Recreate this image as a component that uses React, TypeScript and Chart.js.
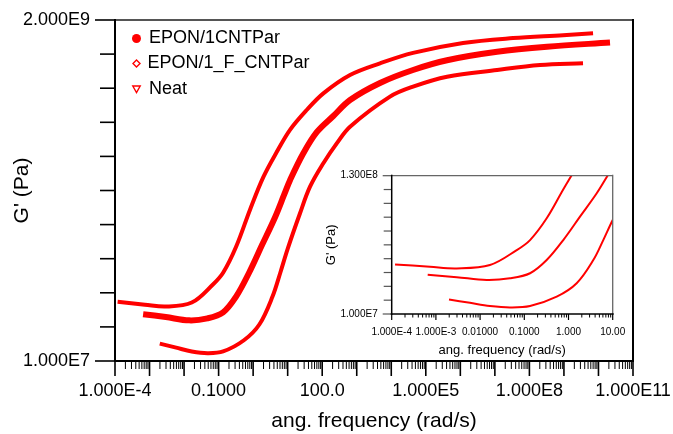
import React, { useEffect, useRef } from 'react';
import { Chart, registerables } from 'chart.js';
Chart.register(...registerables);

const FONT = '"Liberation Sans", Arial, Helvetica, sans-serif';
const RED = '#ff0000';

const seriesNames = ['EPON/1CNTPar', 'EPON/1_F_CNTPar', 'Neat'];

// EPON/1CNTPar (filled circles, middle curve)
const freqEpon1 = [6.52e-4, 2.96e-3, 0.0141, 0.0474, 0.135, 0.321, 0.762, 1.82, 4.35, 7.96, 11.7, 28.4, 69.5, 210, 640, 4720, 4.27e4, 4.12e5, 1.16e7, 3.24e8, 2.16e10];
const gEpon1 = [2.07e7, 1.98e7, 1.88e7, 1.94e7, 2.13e7, 2.72e7, 3.94e7, 6.08e7, 9.38e7, 1.33e8, 1.66e8, 2.52e8, 3.5e8, 4.5e8, 5.77e8, 7.52e8, 9.2e8, 1.07e9, 1.22e9, 1.32e9, 1.41e9];

// EPON/1_F_CNTPar (open diamonds, top curve)
const freqEponF = [1.19e-4, 7.35e-4, 2.95e-3, 0.0167, 0.0673, 0.135, 0.321, 0.813, 1.97, 4.82, 11.7, 35.6, 108, 640, 4720, 4.27e4, 1.2e6, 3.36e7, 9.42e8, 6.97e9];
const gEponF = [2.51e7, 2.4e7, 2.33e7, 2.48e7, 3.27e7, 3.94e7, 5.9e7, 1.05e8, 1.74e8, 2.57e8, 3.63e8, 4.94e8, 6.4e8, 8.51e8, 1.02e9, 1.2e9, 1.4e9, 1.51e9, 1.58e9, 1.63e9];

// Neat (open down-triangles, bottom curve)
const freqNeat = [1.98e-3, 5.9e-3, 0.0167, 0.0474, 0.135, 0.541, 1.53, 3.64, 6.12, 10.0, 22.8, 44.4, 108, 264, 640, 9200, 4.27e4, 4.12e5, 1.16e7, 2.03e8, 3.57e9];
const gNeat = [1.31e7, 1.23e7, 1.16e7, 1.13e7, 1.16e7, 1.38e7, 1.77e7, 2.72e7, 3.94e7, 5.71e7, 9.93e7, 1.5e8, 2.16e8, 2.94e8, 3.81e8, 6.08e8, 7.1e8, 8.28e8, 9.2e8, 9.93e8, 1.02e9];

// Main axes
const xTickValues = [1e-4, 1e-1, 1e2, 1e5, 1e8, 1e11];
const xTickLabels = ['1.000E-4', '0.1000', '100.0', '1.000E5', '1.000E8', '1.000E11'];
const yTickValues = [1e7, 2e9];
const yTickLabels = ['1.000E7', '2.000E9'];

// Inset axes
const insetXTickValues = [1e-4, 1e-3, 1e-2, 1e-1, 1, 10];
const insetXTickLabels = ['1.000E-4', '1.000E-3', '0.01000', '0.1000', '1.000', '10.00'];
const insetYTickValues = [1e7, 1.3e8];
const insetYTickLabels = ['1.000E7', '1.300E8'];

const xTitle = 'ang. frequency (rad/s)';
const yTitle = "G' (Pa)";

const toPts = (xs: number[], ys: number[]) => xs.map((x, i) => ({ x, y: ys[i] }));

function makeDatasets(widths: number[]) {
  const common = { borderColor: RED, pointRadius: 0, showLine: true, tension: 0.35 };
  return [
    { ...common, label: seriesNames[0], data: toPts(freqEpon1, gEpon1), backgroundColor: RED, borderWidth: widths[0] },
    { ...common, label: seriesNames[1], data: toPts(freqEponF, gEponF), backgroundColor: '#fff', borderWidth: widths[1] },
    { ...common, label: seriesNames[2], data: toPts(freqNeat, gNeat), backgroundColor: '#fff', borderWidth: widths[2] },
  ];
}

function makeAxesPlugin(cfg: any) {
  return {
    id: 'axesFrame',
    afterDatasetsDraw(chart: any) {
      const { ctx, chartArea: a } = chart;
      const xs = chart.scales.x, ys = chart.scales.y;
      ctx.save();
      ctx.lineCap = 'butt';
      const seg = (x1: number, y1: number, x2: number, y2: number, w: number, c: string) => {
        ctx.beginPath(); ctx.lineWidth = w; ctx.strokeStyle = c; ctx.moveTo(x1, y1); ctx.lineTo(x2, y2); ctx.stroke();
      };
      const e0 = Math.floor(Math.log10(xs.min) + 1e-9);
      const e1 = Math.ceil(Math.log10(xs.max) - 1e-9);
      for (let e = e0; e <= e1; e++) {
        for (let k = 1; k <= 9; k++) {
          const v = k * Math.pow(10, e);
          if (v < xs.min * 0.9999 || v > xs.max * 1.0001) continue;
          const px = xs.getPixelForValue(v);
          const major = k === 1;
          seg(px, a.bottom, px, a.bottom + (major ? cfg.xMajor : cfg.xMinor), major ? cfg.majorW : cfg.minorW, '#000');
        }
      }
      const l0 = Math.log10(ys.min), l1 = Math.log10(ys.max);
      for (let i = 0; i <= cfg.yDiv; i++) {
        const v = Math.pow(10, l0 + (l1 - l0) * i / cfg.yDiv);
        const py = ys.getPixelForValue(v);
        const end = i === 0 || i === cfg.yDiv;
        seg(a.left - (end ? cfg.yEnd : cfg.yMid), py, a.left, py, cfg.majorW, cfg.yTickColor);
      }
      seg(a.left, a.top, a.right, a.top, cfg.frameW, cfg.topColor);
      seg(a.right, a.top - 1, a.right, a.bottom, cfg.frameW, cfg.rightColor);
      seg(a.left, a.top - 1, a.left, a.bottom + 1, cfg.axisW, '#000');
      seg(a.left - 1, a.bottom, a.right + 1, a.bottom, cfg.axisW, '#000');
      ctx.restore();
    },
  };
}

const legendPlugin = {
  id: 'customLegend',
  afterDraw(chart: any) {
    const { ctx } = chart;
    ctx.save();
    ctx.font = `18px ${FONT}`;
    ctx.textBaseline = 'middle';
    ctx.textAlign = 'left';
    // row 1: filled circle
    ctx.beginPath(); ctx.fillStyle = RED; ctx.arc(136.5, 38.5, 4.5, 0, Math.PI * 2); ctx.fill();
    // row 2: open diamond
    ctx.beginPath(); ctx.strokeStyle = RED; ctx.lineWidth = 1.4;
    ctx.moveTo(136.5, 60); ctx.lineTo(140, 63.5); ctx.lineTo(136.5, 67); ctx.lineTo(133, 63.5); ctx.closePath(); ctx.stroke();
    // row 3: open down-triangle
    ctx.beginPath();
    ctx.moveTo(132.8, 86); ctx.lineTo(140.2, 86); ctx.lineTo(136.5, 92.5); ctx.closePath(); ctx.stroke();
    ctx.fillStyle = '#000';
    ctx.fillText(seriesNames[0], 149, 38.5);
    ctx.fillText(seriesNames[1], 147.5, 63.5);
    ctx.fillText(seriesNames[2], 149, 89.5);
    ctx.restore();
  },
};

function axisCfg(opts: any) {
  return {
    type: 'logarithmic' as const,
    min: opts.min,
    max: opts.max,
    position: opts.position,
    afterBuildTicks: (s: any) => { s.ticks = opts.values.map((v: number) => ({ value: v })); },
    afterFit: (s: any) => {
      if (opts.position === 'bottom') s.height = opts.size; else s.width = opts.size;
      s.paddingLeft = 0; s.paddingRight = 0; s.paddingTop = 0; s.paddingBottom = 0;
    },
    ticks: {
      autoSkip: false, maxRotation: 0, minRotation: 0, padding: opts.pad, color: '#000',
      font: { family: FONT, size: opts.font },
      callback: (_v: any, i: number) => opts.labels[i],
    },
    grid: { display: false, drawTicks: false },
    border: { display: false },
    title: { display: true, text: opts.title, color: '#000', font: { family: FONT, size: opts.titleFont }, padding: opts.titlePad },
  };
}

export default function App() {
  const mainRef = useRef<HTMLCanvasElement>(null);
  const insetRef = useRef<HTMLCanvasElement>(null);

  useEffect(() => {
    const main = new Chart(mainRef.current as HTMLCanvasElement, {
      type: 'scatter',
      data: { datasets: makeDatasets([6, 4, 4]) as any },
      options: {
        responsive: false, animation: false, devicePixelRatio: 1,
        layout: { padding: { left: 0, right: 40, top: 20, bottom: 0 } },
        plugins: { legend: { display: false }, tooltip: { enabled: false } },
        scales: {
          x: axisCfg({ min: 1e-4, max: 1e11, position: 'bottom', values: xTickValues, labels: xTickLabels, size: 73, pad: 19, font: 18, title: xTitle, titleFont: 21, titlePad: { top: 0, bottom: 0 } }),
          y: axisCfg({ min: 1e7, max: 2e9, position: 'left', values: yTickValues, labels: yTickLabels, size: 115, pad: 25, font: 18, title: yTitle, titleFont: 21, titlePad: { top: 9.5, bottom: 0 } }),
        } as any,
      },
      plugins: [makeAxesPlugin({ xMajor: 15, xMinor: 8, yEnd: 20, yMid: 15, yDiv: 10, majorW: 1.6, minorW: 1, frameW: 2, axisW: 2, topColor: '#555', rightColor: '#000', yTickColor: '#000' }), legendPlugin],
    });
    const inset = new Chart(insetRef.current as HTMLCanvasElement, {
      type: 'scatter',
      data: { datasets: makeDatasets([2, 2, 2]) as any },
      options: {
        responsive: false, animation: false, devicePixelRatio: 1,
        layout: { padding: { left: 0, right: 27.3, top: 15.7, bottom: 0 } },
        plugins: { legend: { display: false }, tooltip: { enabled: false } },
        scales: {
          x: axisCfg({ min: 1e-4, max: 10, position: 'bottom', values: insetXTickValues, labels: insetXTickLabels, size: 46, pad: 12.3, font: 10, title: xTitle, titleFont: 13, titlePad: { top: 0, bottom: 2.2 } }),
          y: axisCfg({ min: 1e7, max: 1.3e8, position: 'left', values: insetYTickValues, labels: insetYTickLabels, size: 71.7, pad: 14, font: 10, title: yTitle, titleFont: 13, titlePad: { top: 3.2, bottom: 0 } }),
        } as any,
      },
      plugins: [makeAxesPlugin({ xMajor: 6, xMinor: 3.5, yEnd: 9, yMid: 8, yDiv: 10, majorW: 1.2, minorW: 1, frameW: 1.3, axisW: 1.5, topColor: '#666', rightColor: '#666', yTickColor: '#555' })],
    });
    return () => { main.destroy(); inset.destroy(); };
  }, []);

  return (
    <div style={{ position: 'absolute', left: 0, top: 0, width: 673, height: 434, background: '#fff' }}>
      <canvas ref={mainRef} width={673} height={434} style={{ position: 'absolute', left: 0, top: 0, width: 673, height: 434 }} />
      <canvas ref={insetRef} width={320} height={200} style={{ position: 'absolute', left: 320, top: 160, width: 320, height: 200 }} />
    </div>
  );
}
